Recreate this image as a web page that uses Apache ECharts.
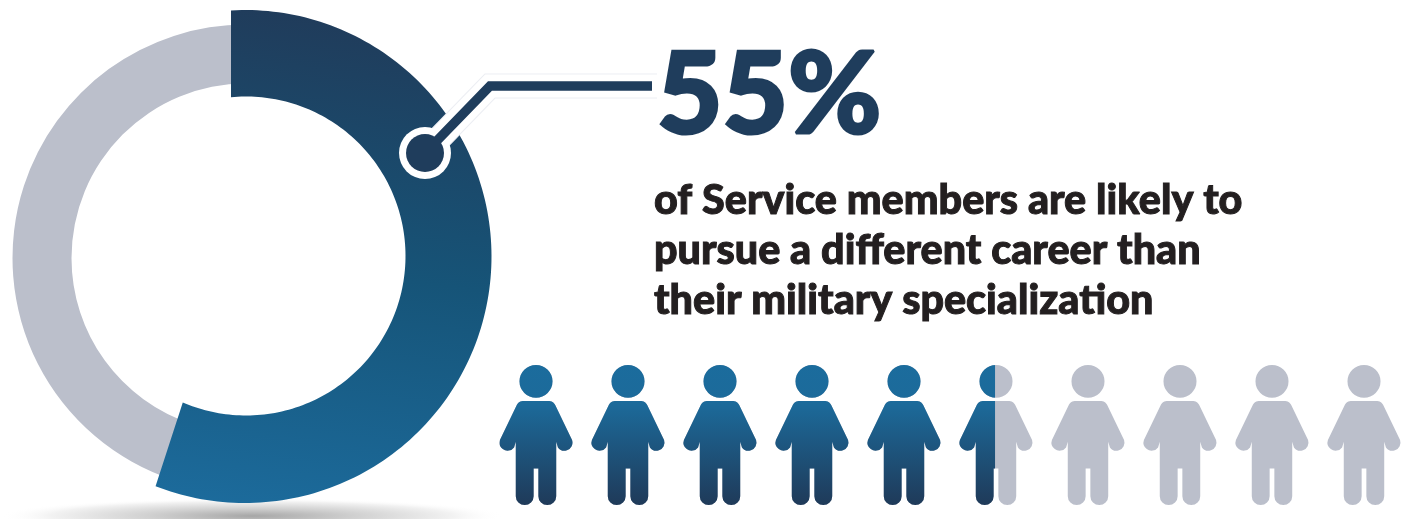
<!DOCTYPE html>
<html>
<head>
<meta charset="utf-8">
<style>html,body{margin:0;padding:0;background:#fff}#c{width:1406px;height:519px}</style>
<script src="https://cdn.jsdelivr.net/npm/echarts@6/dist/echarts.min.js"></script>
</head>
<body>
<div id="c"></div>
<script>
const shareNames = ['Likely to pursue a different career', 'Others'];
const shareValues = [55, 45];
const peopleTotal = [10];
const peopleFilled = [5.5];
const headline = '55%';
const bodyLines = [
  'of Service members are likely to',
  'pursue a different career than',
  'their military specialization'
];

const PERSON = 'path://M110 0A49 49 0 1 1 110 98A49 49 0 1 1 110 0ZM75 108H145C158 108 162 112 167 120L217 225A24 24 0 0 1 175 247L170 230V393A26.5 26.5 0 0 1 117 393V310H103V393A26.5 26.5 0 0 1 50 393V230L45 247A24 24 0 0 1 3 225L53 120C58 112 62 108 75 108Z';
const NAVY = '#1f3d5c', GRAY = '#bbbfcb';

function rayHit(c, d, o, r) {
  const fx = c[0] - o[0], fy = c[1] - o[1];
  const b = fx * d[0] + fy * d[1];
  const k = b * b - (fx * fx + fy * fy - r * r);
  return -b + Math.sqrt(k);
}
function ringSlice(params, api) {
  const total = shareValues.reduce((a, b) => a + b, 0);
  const sweep = api.value(0) / total * Math.PI * 2;
  const seam = [231, 254], outerC = [245, 256.5], innerC = [246, 256];
  const outer = [], inner = [];
  for (let i = 0; i <= 160; i++) {
    const a = sweep * i / 160, d = [Math.sin(a), -Math.cos(a)];
    const ro = rayHit(seam, d, outerC, 246.5), ri = rayHit(seam, d, innerC, 159.5);
    outer.push([seam[0] + d[0] * ro, seam[1] + d[1] * ro]);
    inner.push([seam[0] + d[0] * ri, seam[1] + d[1] * ri]);
  }
  return {
    type: 'polygon',
    shape: { points: outer.concat(inner.reverse()) },
    style: {
      fill: new echarts.graphic.LinearGradient(0.32, 0, 0.12, 1, [
        { offset: 0, color: '#203c5b' },
        { offset: 0.5, color: '#165478' },
        { offset: 1, color: '#1c6b9c' }
      ])
    }
  };
}

const personGradient = new echarts.graphic.LinearGradient(0, 0, 0, 1, [
  { offset: 0, color: '#1b6c9d' },
  { offset: 0.28, color: '#1c6a9a' },
  { offset: 1, color: '#1f3a59' }
]);

const chart = echarts.init(document.getElementById('c'), null, { renderer: 'canvas' });
chart.setOption({
  animation: false,
  backgroundColor: '#fff',
  grid: { left: 499.5, top: 365, width: 901, height: 140 },
  xAxis: { type: 'value', min: 0, max: 10, show: false },
  yAxis: { type: 'category', data: ['People'], show: false },
  series: [
    {
      type: 'pie', z: 2, silent: true,
      center: [246, 258], radius: [174.5, 233.5], startAngle: 90,
      label: { show: false }, labelLine: { show: false },
      data: [
        { name: shareNames[0], value: shareValues[0], itemStyle: { color: 'transparent' } },
        { name: shareNames[1], value: shareValues[1], itemStyle: { color: GRAY } }
      ]
    },
    {
      type: 'custom', coordinateSystem: 'none', z: 3, silent: true,
      renderItem: ringSlice,
      data: [[shareValues[0]]]
    },
    {
      type: 'pictorialBar', z: 4, silent: true, barGap: '-100%',
      symbol: PERSON, symbolSize: [73, 140], symbolRepeat: 10,
      symbolBoundingData: 10, symbolPosition: 'start',
      itemStyle: { color: GRAY },
      data: peopleTotal
    },
    {
      type: 'pictorialBar', z: 5, silent: true,
      symbol: PERSON, symbolSize: [73, 140], symbolRepeat: 10,
      symbolBoundingData: 10, symbolClip: true, symbolPosition: 'start',
      itemStyle: { color: personGradient },
      data: peopleFilled
    }
  ],
  graphic: [
    {
      type: 'circle', z: 1, silent: true, x: 252, y: 516, scaleX: 14,
      shape: { cx: 0, cy: 0, r: 18 },
      style: {
        fill: new echarts.graphic.RadialGradient(0.5, 0.5, 0.5, [
          { offset: 0, color: '#a6a6a6' },
          { offset: 0.4, color: '#cfcfcf' },
          { offset: 0.8, color: '#f2f2f2' },
          { offset: 1, color: 'rgba(255,255,255,0)' }
        ])
      }
    },
    { type: 'polyline', z: 20, silent: true, shape: { points: [[425, 153], [490, 86], [657, 86]] },
      style: { stroke: '#eceef3', lineWidth: 25, fill: null } },
    { type: 'polyline', z: 21, silent: true, shape: { points: [[425, 153], [490, 86], [660, 86]] },
      style: { stroke: '#fff', lineWidth: 23, fill: null } },
    { type: 'circle', z: 22, silent: true, shape: { cx: 425, cy: 153, r: 26 }, style: { fill: '#fff' } },
    { type: 'polyline', z: 23, silent: true, shape: { points: [[425, 153], [490, 86], [652, 86]] },
      style: { stroke: NAVY, lineWidth: 9.5, fill: null } },
    { type: 'circle', z: 24, silent: true, shape: { cx: 425, cy: 153, r: 19 }, style: { fill: NAVY } },
    { type: 'text', z: 30, silent: true, x: 657, y: 153,
      style: { text: headline, fill: NAVY, stroke: NAVY, lineWidth: 3, font: '900 113px Lato', textAlign: 'left', textVerticalAlign: 'bottom' } },
    ...bodyLines.map((t, i) => ({
      type: 'text', z: 30, silent: true, x: 654, y: 201 + i * 50,
      style: { text: t, fill: '#231f20', stroke: '#231f20', lineWidth: 1, font: '900 41.3px Lato', textAlign: 'left', textVerticalAlign: 'middle' }
    }))
  ]
});
</script>
</body>
</html>
